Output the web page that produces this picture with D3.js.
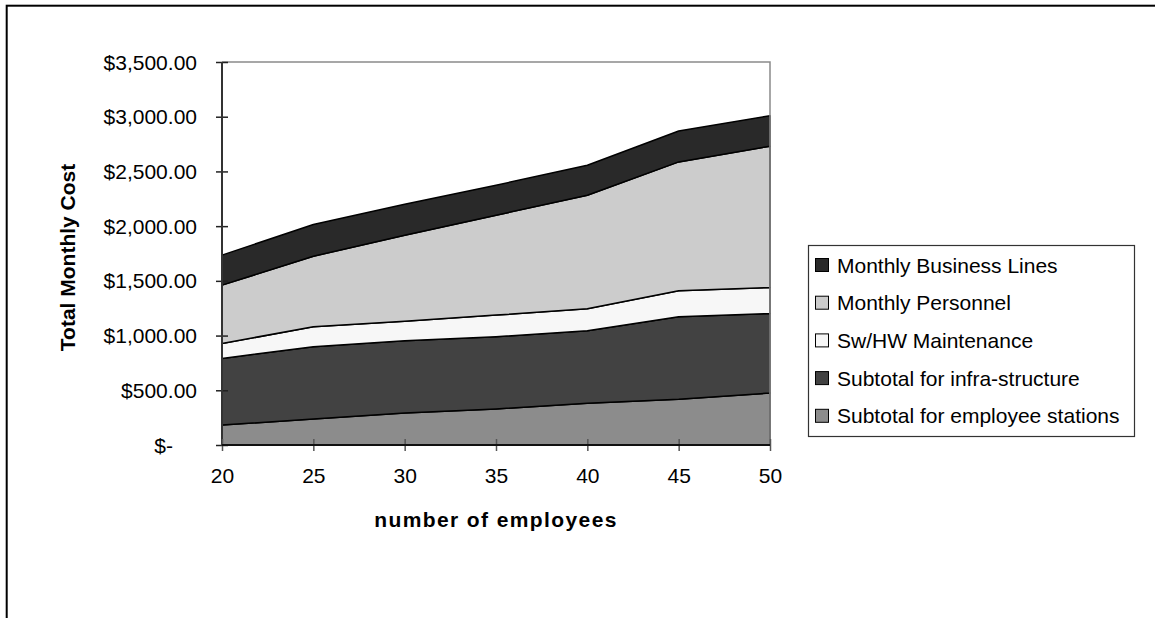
<!DOCTYPE html>
<html>
<head>
<meta charset="utf-8">
<script src="https://cdn.jsdelivr.net/npm/d3@7"></script>
<style>
  body { margin: 0; background: #fff; }
  svg { display: block; font-family: "Liberation Sans", Arial, sans-serif; }
</style>
</head>
<body>
<script>
// data
const employees = [20, 25, 30, 35, 40, 45, 50]
const employeeStations = [183, 237, 293, 329, 382, 418, 475]
const infraStructure = [608, 661, 659, 660, 662, 754, 727]
const swHwMaintenance = [137, 182, 180, 198, 201, 237, 237]
const monthlyPersonnel = [533, 645, 785, 913, 1037, 1178, 1292]
const businessLines = [274, 290, 283, 274, 274, 283, 278]
const yTicks = [0, 500, 1000, 1500, 2000, 2500, 3000, 3500]

// stacked bottom -> top
const seriesNames = ['Subtotal for employee stations', 'Subtotal for infra-structure',
    'Sw/HW Maintenance', 'Monthly Personnel', 'Monthly Business Lines']
const seriesValues = [employeeStations, infraStructure, swHwMaintenance, monthlyPersonnel, businessLines]
const seriesColors = ['#8c8c8c', '#424242', '#f7f7f7', '#cccccc', '#292929']

const W = 1155, H = 618
const plot = { left: 222, right: 770, top: 62, bottom: 445 }

const svg = d3.select('body').append('svg')
    .attr('width', W)
    .attr('height', H)

// outer chart frame (runs off the right and bottom edges)
svg.append('rect')
    .attr('x', 6.7).attr('y', 5.7)
    .attr('width', W + 20).attr('height', H + 20)
    .attr('fill', 'none')
    .attr('stroke', '#000')
    .attr('stroke-width', 2)

const x = d3.scaleLinear().domain([20, 50]).range([plot.left, plot.right])
const y = d3.scaleLinear().domain([0, 3500]).range([plot.bottom, plot.top])

const rows = employees.map((e, i) => {
    const r = { employees: e }
    seriesNames.forEach((n, j) => { r[n] = seriesValues[j][i] })
    return r
})
const stacked = d3.stack().keys(seriesNames)(rows)

const area = d3.area()
    .x(d => x(d.data.employees))
    .y0(d => y(d[0]))
    .y1(d => y(d[1]))

svg.append('g')
    .selectAll('path')
    .data(stacked)
    .join('path')
    .attr('d', area)
    .attr('fill', (d, i) => seriesColors[i])
    .attr('stroke', '#000')
    .attr('stroke-width', 1.5)
    .attr('stroke-linejoin', 'round')

// plot border, top and right in gray
svg.append('path')
    .attr('d', `M${plot.left},${plot.top}H${plot.right}V${plot.bottom}`)
    .attr('fill', 'none')
    .attr('stroke', '#8a8a8a')
    .attr('stroke-width', 1.5)

// y axis
const yAxis = svg.append('g')
    .attr('transform', `translate(${plot.left},0)`)
    .call(d3.axisLeft(y).tickValues(yTicks).tickSize(6).tickPadding(0).tickFormat(''))
yAxis.select('.domain').remove()
yAxis.selectAll('.tick line').attr('x2', -6).attr('x1', 6).attr('stroke', '#222').attr('stroke-width', 1.5)
svg.append('line')
    .attr('x1', plot.left).attr('x2', plot.left)
    .attr('y1', plot.top).attr('y2', plot.bottom)
    .attr('stroke', '#333').attr('stroke-width', 2)

const money = d3.format(',.2f')
svg.append('g')
    .selectAll('text')
    .data(yTicks)
    .join('text')
    .attr('x', d => d === 0 ? 173 : 197)
    .attr('y', d => y(d))
    .attr('dy', '0.36em')
    .attr('text-anchor', 'end')
    .attr('font-size', 21)
    .attr('fill', '#000')
    .text(d => d === 0 ? '$-' : '$' + money(d))

// x axis
const xAxis = svg.append('g')
    .attr('transform', `translate(0,${plot.bottom})`)
    .call(d3.axisBottom(x).tickValues(employees).tickSize(6).tickPadding(17).tickFormat(d3.format('d')))
xAxis.select('.domain').remove()
xAxis.selectAll('.tick line').attr('y1', -6).attr('y2', 6).attr('stroke', '#555').attr('stroke-width', 1.5)
xAxis.selectAll('.tick text').attr('font-size', 21).attr('fill', '#000').attr('font-family', null)
svg.append('line')
    .attr('x1', plot.left).attr('x2', plot.right)
    .attr('y1', plot.bottom).attr('y2', plot.bottom)
    .attr('stroke', '#111').attr('stroke-width', 2)

// axis titles
svg.append('text')
    .attr('x', (plot.left + plot.right) / 2)
    .attr('y', 527)
    .attr('text-anchor', 'middle')
    .attr('font-size', 21)
    .attr('font-weight', 'bold')
    .attr('letter-spacing', 1.4)
    .text('number of employees')

svg.append('text')
    .attr('transform', `translate(75,${(plot.top + plot.bottom) / 2 + 4}) rotate(-90)`)
    .attr('text-anchor', 'middle')
    .attr('font-size', 21)
    .attr('font-weight', 'bold')
    .text('Total Monthly Cost')

// legend, top entry is the top layer
const legend = svg.append('g')
legend.append('rect')
    .attr('x', 808.5).attr('y', 245.5)
    .attr('width', 326).attr('height', 191)
    .attr('fill', '#fff')
    .attr('stroke', '#333')
    .attr('stroke-width', 1.2)

const legendOrder = d3.range(seriesNames.length).reverse()
const item = legend.selectAll('g.item')
    .data(legendOrder)
    .join('g')
    .attr('class', 'item')
    .attr('transform', (d, i) => `translate(815,${265 + i * 37.7})`)
item.append('rect')
    .attr('x', 0.5).attr('y', -6.5)
    .attr('width', 13).attr('height', 13)
    .attr('fill', d => seriesColors[d])
    .attr('stroke', '#000')
    .attr('stroke-width', 1)
item.append('text')
    .attr('x', 22)
    .attr('y', 0)
    .attr('dy', '0.36em')
    .attr('font-size', 21)
    .text(d => seriesNames[d])
</script>
</body>
</html>
